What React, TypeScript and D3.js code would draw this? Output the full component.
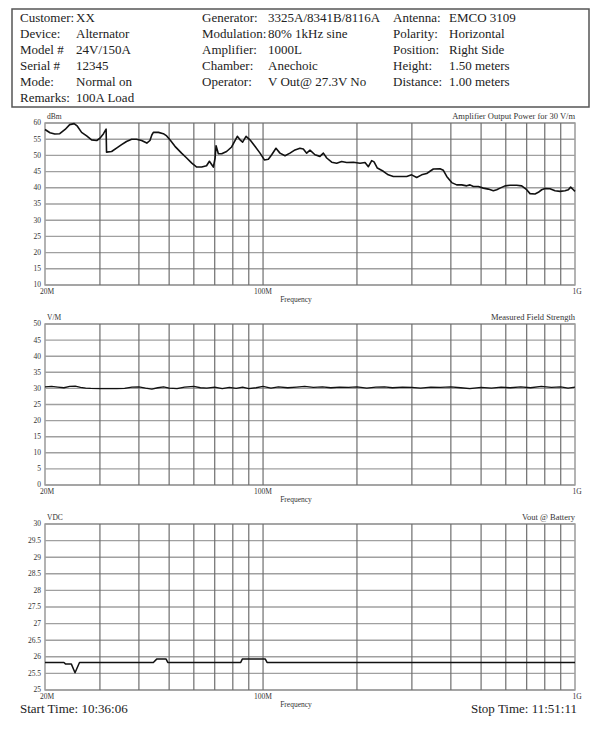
import React from "react";
import * as d3 from "d3";

// ---------- header info ----------
const headerCol1 = [
  ["Customer:", "XX"],
  ["Device:", "Alternator"],
  ["Model #", "24V/150A"],
  ["Serial #", "12345"],
  ["Mode:", "Normal on"],
  ["Remarks:", "100A Load"],
];
const headerCol2 = [
  ["Generator:", "3325A/8341B/8116A"],
  ["Modulation:", "80% 1kHz sine"],
  ["Amplifier:", "1000L"],
  ["Chamber:", "Anechoic"],
  ["Operator:", "V Out@ 27.3V No"],
];
const headerCol3 = [
  ["Antenna:", "EMCO 3109"],
  ["Polarity:", "Horizontal"],
  ["Position:", "Right Side"],
  ["Height:", "1.50 meters"],
  ["Distance:", "1.00 meters"],
];

// ---------- frequency axis ----------
const freqGrid = [30, 40, 50, 60, 70, 80, 90, 100, 200, 300, 400, 500, 600, 700, 800, 900];
const freqLabels = [
  { f: 20, t: "20M" },
  { f: 100, t: "100M" },
  { f: 1000, t: "1G" },
];

// ---------- chart 1: Amplifier output power (dBm) ----------
const powerFreq = [
  20, 20.75, 21.5, 22.3, 23.2, 24.0, 24.8, 25.4, 26.2, 27.2, 28.2, 29.3, 30.0, 30.8, 31.4, 31.5,
  32.7, 34.0, 35.2, 36.5, 37.9, 39.3, 40.8, 42.4, 43.4, 44.0, 44.5, 46.2, 47.9, 49.1, 50.3, 52.2,
  54.8, 56.9, 59.1, 61.3, 63.6, 65.9, 67.3, 69.3, 70.2, 70.7, 71.9, 73.7, 76.4, 79.3, 82.7, 84.4,
  86.0, 88.2, 90.8, 94.2, 97.8, 101, 104, 106.6, 110, 113.3, 117.6, 122, 126.6, 131.3, 134.6, 138,
  141.4, 146.7, 152.2, 156.1, 160, 166, 172.2, 178.6, 185.4, 194.8, 204.6, 212.3, 217.6, 223,
  226.9, 232.5, 243, 252, 261.6, 274.8, 288.7, 299.5, 310.8, 322.4, 334.5, 342.9, 351.5, 369.2,
  378.4, 388, 402.5, 417.6, 433.3, 449.6, 460.7, 472.2, 489.9, 508.4, 527.5, 547.3, 561, 575,
  596.6, 619, 650.3, 674.7, 700, 717.5, 744.4, 763, 782, 801.5, 831.6, 862.9, 895.4, 929, 952,
  968.5, 987.9, 1000,
];
const powerDbm = [
  58.0, 57.0, 56.6, 56.7, 58.0, 59.5, 59.8, 59.0, 57.1, 56.0, 54.8, 54.6, 55.3, 56.7, 58.1, 51.0,
  51.2, 52.3, 53.3, 54.3, 55.0, 55.0, 54.6, 53.8, 54.6, 56.3, 57.1, 57.1, 56.7, 56.0, 54.8, 52.8,
  50.7, 49.2, 47.6, 46.4, 46.4, 46.8, 48.2, 46.4, 49.2, 53.0, 50.5, 50.5, 51.2, 52.6, 55.9, 54.8,
  54.1, 55.9, 54.8, 52.8, 50.7, 48.6, 48.8, 50.2, 52.2, 50.7, 49.9, 50.7, 51.7, 52.2, 52.0, 50.7,
  51.6, 50.2, 49.7, 50.7, 49.2, 47.9, 47.6, 48.1, 47.8, 47.9, 47.6, 47.8, 46.5, 48.4,
  48.0, 46.1, 45.1, 44.0, 43.5, 43.5, 43.5, 44.0, 43.2, 44.0, 44.4, 45.1, 45.8, 45.9,
  45.4, 43.5, 41.6, 40.9, 40.9, 40.6, 40.9, 40.4, 40.4, 39.9, 39.6, 39.1, 39.4, 39.9,
  40.6, 40.8, 40.8, 40.6, 39.4, 38.2, 38.1, 38.6, 39.4, 39.8, 39.7, 39.1, 38.9, 39.1, 39.4,
  40.2, 39.4, 38.9,
];
const powerTicks = [10, 15, 20, 25, 30, 35, 40, 45, 50, 55, 60];

// ---------- chart 2: Measured field strength (V/m) ----------
const fieldFreq = [
  20, 21, 22, 23, 24, 25, 26, 27, 28, 30, 32, 34, 36, 38, 40, 42, 44, 46, 48, 50, 53, 56, 60, 63,
  66, 70, 74, 78, 82, 86, 90, 95, 100, 106, 112, 120, 128, 136, 145, 155, 165, 176, 188, 200, 215,
  230, 245, 260, 280, 300, 320, 345, 370, 400, 430, 460, 500, 540, 580, 620, 670, 720, 780, 840,
  900, 950, 1000,
];
const fieldVm = [
  30.5, 30.6, 30.4, 30.2, 30.6, 30.7, 30.3, 30.1, 30.0, 29.9, 29.9, 29.9, 30.0, 30.4, 30.5, 30.1,
  29.8, 30.2, 30.5, 30.1, 29.9, 30.4, 30.6, 30.2, 30.1, 30.4, 29.9, 30.3, 30.0, 30.4, 29.9, 30.2,
  30.6, 30.1, 30.5, 30.2, 30.4, 30.6, 30.3, 30.5, 30.2, 30.4, 30.3, 30.5, 30.1, 30.4, 30.5, 30.2,
  30.4, 30.3, 30.1, 30.4, 30.3, 30.5, 30.2, 29.9, 30.3, 30.1, 30.4, 30.2, 30.5, 30.2, 30.6, 30.3,
  30.5, 30.1, 30.4,
];
const fieldTicks = [0, 5, 10, 15, 20, 25, 30, 35, 40, 45, 50];

// ---------- chart 3: Vout @ Battery (VDC) ----------
const voutFreq = [
  20, 23.0, 23.3, 24.3, 24.96, 25.8, 44.5, 45.6, 48.9, 49.5, 84.8, 85.8, 101.7, 103, 1000,
];
const voutVdc = [
  25.83, 25.83, 25.78, 25.78, 25.52, 25.83, 25.83, 25.93, 25.93, 25.83, 25.83, 25.93, 25.93,
  25.83, 25.83,
];
const voutTicks = [25, 25.5, 26, 26.5, 27, 27.5, 28, 28.5, 29, 29.5, 30];
const voutTickLabels = ["25", "25.5", "26", "26.5", "27", "27.5", "28", "28.5", "29", "29.5", "30"];

const SERIF = "'Liberation Serif', 'Times New Roman', serif";
const X0 = 45;
const X1 = 575;

const xScale = d3.scaleLog().domain([20, 1000]).range([X0, X1]);

function Chart({
  top,
  bottom,
  domain,
  ticks,
  tickLabels,
  unit,
  title,
  freqs,
  values,
  lineWidth,
}: {
  top: number;
  bottom: number;
  domain: [number, number];
  ticks: number[];
  tickLabels?: string[];
  unit: string;
  title: string;
  freqs: number[];
  values: number[];
  lineWidth: number;
}) {
  const y = d3.scaleLinear().domain(domain).range([bottom, top]);
  const pts = freqs.map((f, i) => [f, values[i]] as [number, number]);
  const line = d3
    .line<[number, number]>()
    .x((d) => xScale(d[0]))
    .y((d) => y(d[1]));
  return (
    <g>
      <rect x={X0} y={top} width={X1 - X0} height={bottom - top} fill="#fff" stroke="#8a8a8a" strokeWidth={1.3} />
      {ticks.map((t, i) => (
        <g key={"h" + i}>
          <line x1={X0} x2={X1} y1={y(t)} y2={y(t)} stroke="#a0a0a0" strokeWidth={1.4} />
          <text
            x={41}
            y={y(t)}
            dy="0.33em"
            textAnchor="end"
            fontSize={7.5}
            fontFamily={SERIF}
            fill="#333"
          >
            {tickLabels ? tickLabels[i] : String(t)}
          </text>
        </g>
      ))}
      {freqGrid.map((f) => (
        <line key={"v" + f} x1={xScale(f)} x2={xScale(f)} y1={top} y2={bottom} stroke="#6e6e6e" strokeWidth={1.2} />
      ))}
      <path d={line(pts) || ""} fill="none" stroke="#111" strokeWidth={lineWidth} strokeLinejoin="round" />
      <text x={47} y={top - 4} fontSize={7.5} fontFamily={SERIF} fill="#333">
        {unit}
      </text>
      <text x={X1} y={top - 4} textAnchor="end" fontSize={8.5} fontFamily={SERIF} fill="#333">
        {title}
      </text>
      {freqLabels.map((l) => (
        <text
          key={l.t}
          x={xScale(l.f) + (l.f === 20 ? 2 : l.f === 1000 ? 2 : 0)}
          y={bottom + 9}
          textAnchor="middle"
          fontSize={7.5}
          fontFamily={SERIF}
          fill="#333"
        >
          {l.t}
        </text>
      ))}
      <text x={296} y={bottom + 17} textAnchor="middle" fontSize={7.5} fontFamily={SERIF} fill="#333">
        Frequency
      </text>
    </g>
  );
}

function HeaderCol({ rows, lx, vx }: { rows: string[][]; lx: number; vx: number }) {
  return (
    <g>
      {rows.map((r, i) => (
        <g key={i}>
          <text x={lx} y={22 + i * 16} fontSize={13} fontFamily={SERIF} fill="#222">
            {r[0]}
          </text>
          <text x={vx} y={22 + i * 16} fontSize={13} fontFamily={SERIF} fill="#222">
            {r[1]}
          </text>
        </g>
      ))}
    </g>
  );
}

export default function App() {
  return (
    <svg
      width={600}
      height={731}
      viewBox="0 0 600 731"
      style={{ position: "absolute", left: 0, top: 0, background: "#fff" }}
    >
      <rect x={0} y={0} width={600} height={731} fill="#fff" />
      <rect x={12} y={9} width={577} height={98} fill="#fff" stroke="#555" strokeWidth={1.5} />
      <HeaderCol rows={headerCol1} lx={20} vx={76} />
      <HeaderCol rows={headerCol2} lx={202} vx={268} />
      <HeaderCol rows={headerCol3} lx={393} vx={449} />

      <Chart
        top={123}
        bottom={285}
        domain={[10, 60]}
        ticks={powerTicks}
        unit="dBm"
        title="Amplifier Output Power for 30 V/m"
        freqs={powerFreq}
        values={powerDbm}
        lineWidth={1.6}
      />
      <Chart
        top={324}
        bottom={485}
        domain={[0, 50]}
        ticks={fieldTicks}
        unit="V/M"
        title="Measured Field Strength"
        freqs={fieldFreq}
        values={fieldVm}
        lineWidth={1.3}
      />
      <Chart
        top={524}
        bottom={690}
        domain={[25, 30]}
        ticks={voutTicks}
        tickLabels={voutTickLabels}
        unit="VDC"
        title="Vout @ Battery"
        freqs={voutFreq}
        values={voutVdc}
        lineWidth={1.5}
      />

      <text x={20} y={713} fontSize={13} fontFamily={SERIF} fill="#222">
        Start Time: 10:36:06
      </text>
      <text x={577} y={713} textAnchor="end" fontSize={13} fontFamily={SERIF} fill="#222">
        Stop Time: 11:51:11
      </text>
    </svg>
  );
}
